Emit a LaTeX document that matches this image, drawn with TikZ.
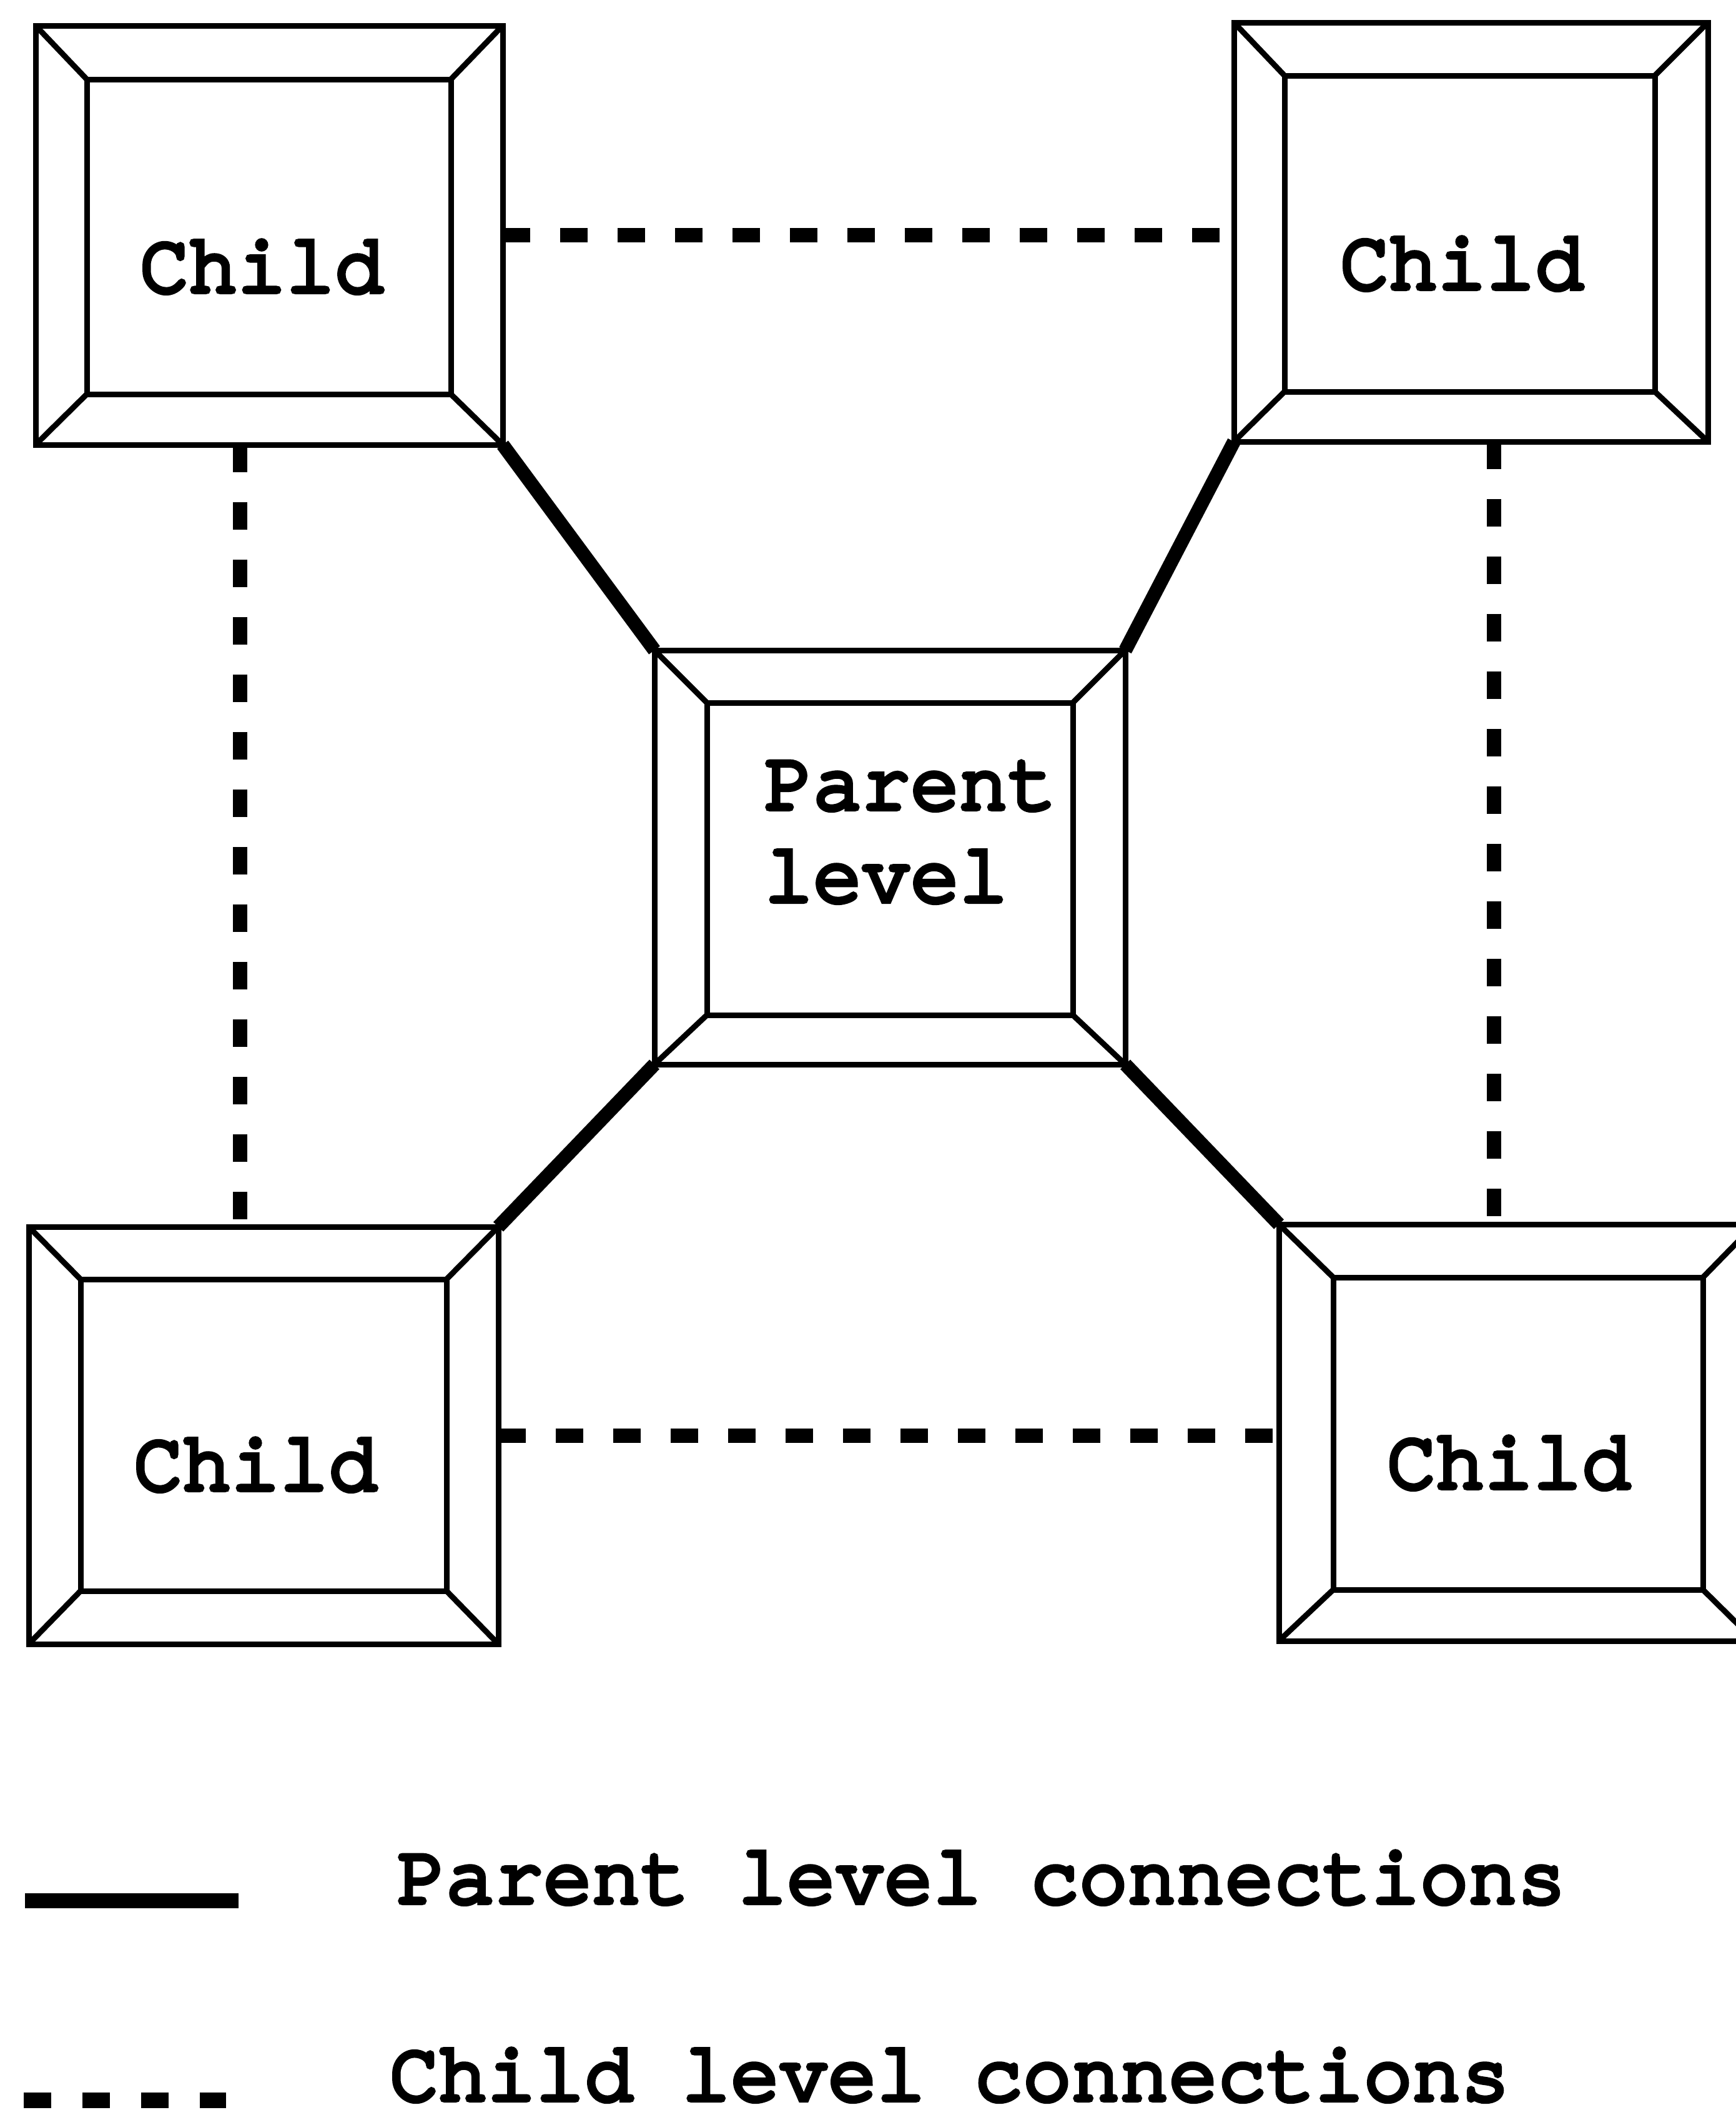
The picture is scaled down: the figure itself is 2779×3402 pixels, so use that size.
\documentclass[tikz,border=0pt]{standalone}
\usepackage{fontspec}
\newfontfamily\courfont{texgyrecursor}[Extension=.otf, UprightFont=*-regular,
  BoldFont=*-bold, FakeBold=6, FakeStretch=0.97]
\usetikzlibrary{fit}

% A framed box with a bevelled border: outer rectangle, inner rectangle,
% and four diagonals joining their corners.
\newcommand\bevelbox[9]{%
  \node[frame, fit={(#2,#3) (#4,#5)}] (#1) {};
  \node[frame, fit={(#6,#7) (#8,#9)}] (#1i) {};
  \draw[bevel] (#1.north west) -- (#1i.north west)
               (#1.north east) -- (#1i.north east)
               (#1.south west) -- (#1i.south west)
               (#1.south east) -- (#1i.south east);
}

\begin{document}
\begin{tikzpicture}[x=0.1pt, y=-0.1pt,
  frame/.style={draw, line width=0.9pt, inner sep=0pt, outer sep=0pt},
  bevel/.style={line width=0.9pt},
  parentlink/.style={line width=2.2pt},
  childlink/.style={line width=2.3pt, dash pattern=on 4.4pt off 4.8pt},
  lbl/.style={font=\courfont\fontsize{13.4}{15}\selectfont,
              inner sep=0pt, anchor=base},
  legendtext/.style={lbl, anchor=base west}]
\useasboundingbox (0,0) rectangle (2779,3402);

% boxes
\bevelbox{tl}{57}{41}{805}{712}{139}{127}{722}{631}
\bevelbox{tr}{1976}{36}{2735}{707}{2057}{121}{2650}{627}
\bevelbox{pa}{1048}{1041}{1802}{1704}{1132}{1125}{1718}{1625}
\bevelbox{bl}{46}{1964}{798}{2632}{129}{2048}{715}{2547}
\bevelbox{br}{2048}{1960}{2810}{2627}{2135}{2045}{2727}{2545}

% labels
\node[lbl] (tlt) at (419,467) {Child};
\node[lbl] (trt) at (2341,462) {Child};
\node[lbl] (blt) at (409,2385) {Child};
\node[lbl] (brt) at (2416,2382) {Child};
\node[legendtext] (pat1) at (1222,1295) {Parent};
\node[legendtext] (pat2) at (1222,1443) {level};

% parent level connections
\draw[parentlink] (tl.south east) -- (pa.north west);
\draw[parentlink] (tr.south west) -- (pa.north east);
\draw[parentlink] (bl.north east) -- (pa.south west);
\draw[parentlink] (pa.south east) -- (br.north west);

% child level connections
\coordinate (lv) at (384,712);
\coordinate (rv) at (2392,707);
\draw[childlink] (tl.east) -- (tl.east -| tr.west);
\draw[childlink] (bl.east) -- (bl.east -| br.west);
\draw[childlink] (lv) -- (lv |- bl.north);
\draw[childlink] (rv) -- (rv |- br.north);

% legend
\coordinate (ps) at (40,3043);
\coordinate (pe) at (382,3043);
\coordinate (cs) at (38,3362);
\coordinate (ce) at (362,3362);
\draw[line width=2.4pt] (ps) -- (pe);
\draw[line width=2.5pt, dash pattern=on 4.4pt off 5pt] (cs) -- (ce);
\node[legendtext] (plt) at (634,3046) {Parent level connections};
\node[legendtext] (clt) at (622,3362) {Child level connections};
\end{tikzpicture}
\end{document}
